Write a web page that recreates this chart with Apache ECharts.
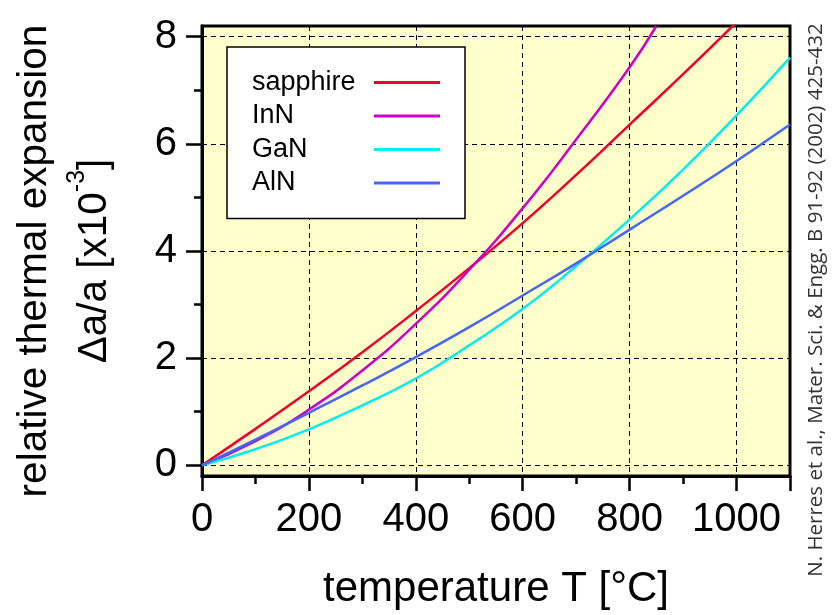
<!DOCTYPE html>
<html>
<head>
<meta charset="utf-8">
<script src="https://cdn.jsdelivr.net/npm/echarts@6/dist/echarts.min.js"></script>
<style>
  html, body { margin: 0; padding: 0; background: #fff; }
  #chart { width: 834px; height: 615px; }
</style>
</head>
<body>
<div id="chart"></div>
<script>
// Temperature grid in °C
const temperature = [0, 100, 200, 300, 400, 500, 600, 700, 800, 900, 1000, 1100];

// Relative thermal expansion Δa/a in units of 1e-3
const sapphire = [0, 0.68, 1.38, 2.11, 2.88, 3.68, 4.52, 5.42, 6.36, 7.30, 8.27];
const inn      = [0, 0.45, 1.04, 1.77, 2.64, 3.65, 4.80, 6.08, 7.43];
const innTail  = [[850, 8.2]];
const gan      = [0, 0.30, 0.67, 1.12, 1.62, 2.24, 2.92, 3.72, 4.59, 5.52, 6.53, 7.61];
const aln      = [0, 0.48, 0.98, 1.49, 2.02, 2.58, 3.17, 3.77, 4.40, 5.03, 5.68, 6.36];

// Tick positions
const xMajorTicks = [0, 200, 400, 600, 800, 1000, 1100];
const xLabels     = [0, 200, 400, 600, 800, 1000];
const xMinorTicks = [100, 300, 500, 700, 900];
const yMajorTicks = [0, 2, 4, 6, 8];
const yMinorTicks = [1, 3, 5, 7];

const seriesNames  = ['sapphire', 'InN', 'GaN', 'AlN'];
const seriesColors = ['#f0002a', '#cc00cc', '#00eeee', '#4466ff'];

const FONT = '"Liberation Sans", Arial, sans-serif';

function pairs(values) {
  return values.map((v, i) => [temperature[i], v]);
}

const seriesData = [
  pairs(sapphire),
  pairs(inn).concat(innTail),
  pairs(gan),
  pairs(aln)
];

const plain = v => String(v);

const chart = echarts.init(document.getElementById('chart'), null, { renderer: 'canvas' });

chart.setOption({
  animation: false,
  backgroundColor: '#ffffff',
  grid: {
    left: 202, top: 26, width: 588, height: 454,
    show: true,
    backgroundColor: '#ffffcc',
    borderColor: '#000',
    borderWidth: 3
  },
  legend: {
    data: seriesNames,
    orient: 'vertical',
    left: 227, top: 47,
    align: 'right',
    icon: 'rect',
    itemWidth: 66,
    itemHeight: 3,
    itemGap: 6.5,
    padding: [22, 25, 22, 25],
    backgroundColor: '#ffffff',
    borderColor: '#000',
    borderWidth: 1.5,
    borderRadius: 0,
    selectedMode: false,
    formatter: '{n|{name}}',
    textStyle: {
      fontFamily: FONT,
      fontSize: 27,
      color: '#000',
      rich: {
        n: { width: 117, align: 'left', fontSize: 27, fontFamily: FONT, color: '#000' }
      }
    }
  },
  xAxis: [
    {
      type: 'value',
      min: 0, max: 1100,
      position: 'bottom',
      axisLine: { show: true, onZero: false, lineStyle: { color: '#000', width: 3 } },
      axisTick: { show: true, customValues: xMajorTicks, length: 15, lineStyle: { color: '#000', width: 2.5 } },
      axisLabel: { customValues: xLabels, formatter: plain, fontFamily: FONT, fontSize: 40, color: '#000', margin: 24 },
      splitLine: { show: true, lineStyle: { color: '#000', width: 1, type: [5, 4] } },
      name: 'temperature T [°C]',
      nameLocation: 'middle',
      nameGap: 92,
      nameTextStyle: { fontFamily: FONT, fontSize: 42, color: '#000' }
    },
    {
      type: 'value',
      min: 0, max: 1100,
      position: 'bottom',
      axisLine: { show: false, onZero: false },
      axisTick: { show: true, customValues: xMinorTicks, length: 8, lineStyle: { color: '#000', width: 2.5 } },
      axisLabel: { show: false },
      splitLine: { show: false }
    }
  ],
  yAxis: [
    {
      type: 'value',
      min: -0.2, max: 8.2,
      position: 'left',
      axisLine: { show: true, onZero: false, lineStyle: { color: '#000', width: 3 } },
      axisTick: { show: true, customValues: yMajorTicks, length: 16, lineStyle: { color: '#000', width: 2.5 } },
      axisLabel: { customValues: yMajorTicks, formatter: plain, fontFamily: FONT, fontSize: 40, color: '#000', margin: 25 },
      splitLine: { show: true, lineStyle: { color: '#000', width: 1, type: [5, 4] } },
      name: '{a|relative thermal expansion}\n{a|Δa/a [x10}{s|-3}{a|]}',
      nameLocation: 'middle',
      nameRotate: 90,
      nameGap: 77,
      nameTextStyle: {
        fontFamily: FONT,
        color: '#000',
        padding: [0, 20, 0, 0],
        rich: {
          a: { fontFamily: FONT, fontSize: 40.5, lineHeight: 60, color: '#000' },
          s: { fontFamily: FONT, fontSize: 25, lineHeight: 14, verticalAlign: 'top', color: '#000' }
        }
      }
    },
    {
      type: 'value',
      min: -0.2, max: 8.2,
      position: 'left',
      axisLine: { show: false, onZero: false },
      axisTick: { show: true, customValues: yMinorTicks, length: 8, lineStyle: { color: '#000', width: 2.5 } },
      axisLabel: { show: false },
      splitLine: { show: false }
    }
  ],
  graphic: [
    {
      type: 'text',
      x: 816, y: 300,
      rotation: Math.PI / 2,
      style: {
        text: 'N. Herres et al., Mater. Sci. & Engg. B 91-92 (2002) 425-432',
        font: '20.5px "Open Sans", "Noto Sans", sans-serif',
        fill: '#333',
        align: 'center',
        verticalAlign: 'middle'
      }
    }
  ],
  series: seriesNames.map((name, i) => ({
    name: name,
    type: 'line',
    xAxisIndex: 0,
    yAxisIndex: 0,
    data: seriesData[i],
    smooth: true,
    showSymbol: false,
    symbol: 'none',
    clip: true,
    color: seriesColors[i],
    lineStyle: { color: seriesColors[i], width: 2.5 },
    z: 3 + i
  }))
});
</script>
</body>
</html>
